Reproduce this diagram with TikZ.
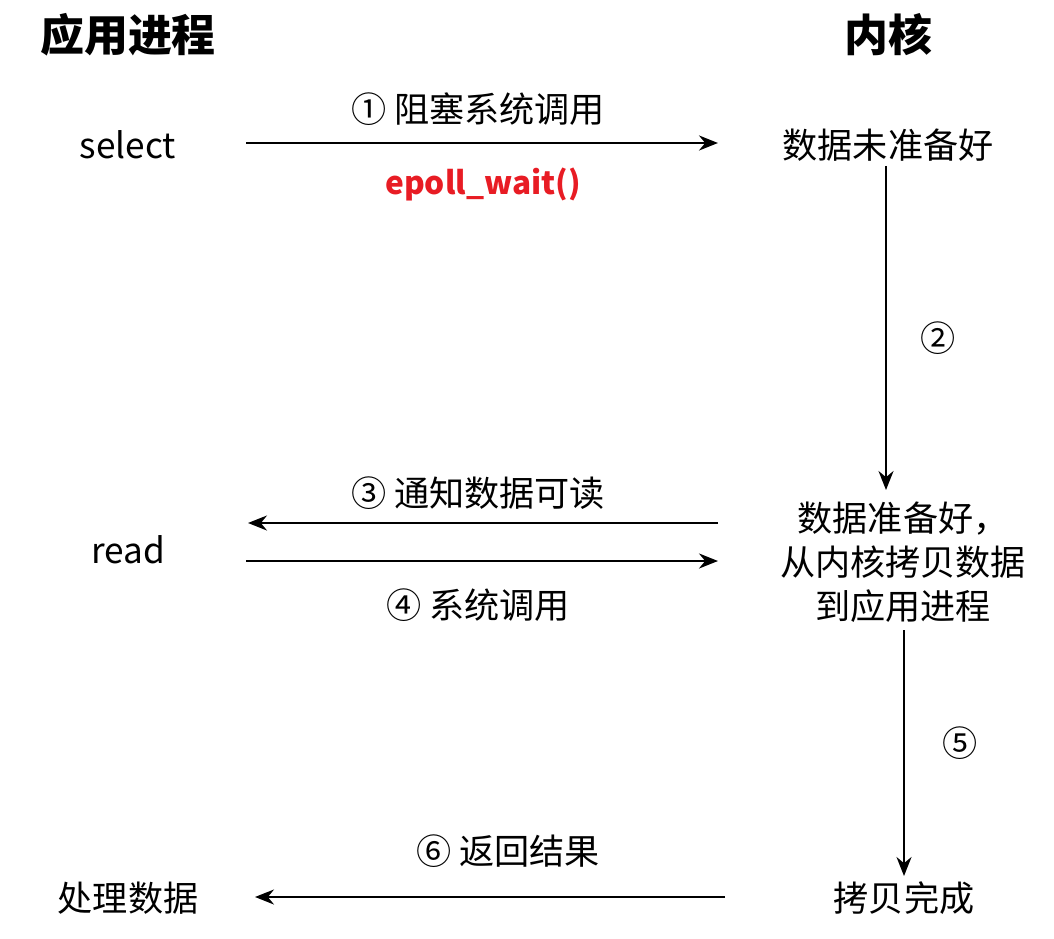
\documentclass[tikz,border=0pt]{standalone}
\usepackage{fontspec}
\setmainfont{Noto Sans CJK SC}
\usepackage{tikz}
\usetikzlibrary{arrows.meta,positioning}
\definecolor{epred}{RGB}{232,28,36}

\tikzset{
    txt/.style={font=\fontsize{20}{25}\selectfont, inner sep=0pt, align=center},
    head/.style={font=\fontsize{25}{30}\selectfont\bfseries, inner sep=0pt},
    flow/.style={line width=1.2pt, -{Stealth[length=0.38cm,width=0.3cm]}}
}

\begin{document}
\begin{tikzpicture}[x=0.02cm,y=-0.02cm]
        \useasboundingbox (0,0) rectangle (1054,939);
        % Titles
        \node[head] (app) at (128,35) {应用进程};
        \node[head] (kern) at (888,35) {内核};
        % Left column
        \node[txt] (sel) at (128,145) {select};
        \node[txt] (rd) at (128,550) {read};
        \node[txt] (proc) at (128,898) {处理数据};
        % Right column
        \node[txt] (notready) at (888,145) {数据未准备好};
        \node[txt] (ready) at (903,562) {数据准备好，\\从内核拷贝数据\\到应用进程};
        \node[txt] (done) at (904,898) {拷贝完成};
        % Arrow end points
        \coordinate (a1s) at (246,143);
        \coordinate (a1e) at (718,143);
        \coordinate (a2s) at (886,166);
        \coordinate (a2e) at (886,490);
        \coordinate (a3s) at (718,523);
        \coordinate (a3e) at (248,523);
        \coordinate (a4s) at (246,561);
        \coordinate (a4e) at (718,561);
        \coordinate (a5s) at (904,630);
        \coordinate (a5e) at (904,876);
        \coordinate (a6s) at (725,897);
        \coordinate (a6e) at (255,897);
        \draw[flow] (a1s) -- (a1e);
        \draw[flow] (a2s) -- (a2e);
        \draw[flow] (a3s) -- (a3e);
        \draw[flow] (a4s) -- (a4e);
        \draw[flow] (a5s) -- (a5e);
        \draw[flow] (a6s) -- (a6e);
        % Labels
        \node[txt] (l1) at (478,109) {① 阻塞系统调用};
        \node[txt, font=\fontsize{18}{22}\selectfont\bfseries, text=epred] (ep) at (483,184) {epoll\_wait()};
        \node[txt] (l2) at (938,338) {②};
        \node[txt] (l3) at (478,493) {③ 通知数据可读};
        \node[txt] (l4) at (478,605) {④ 系统调用};
        \node[txt] (l5) at (960,743) {⑤};
        \node[txt] (l6) at (508,851) {⑥ 返回结果};
\end{tikzpicture}
\end{document}
